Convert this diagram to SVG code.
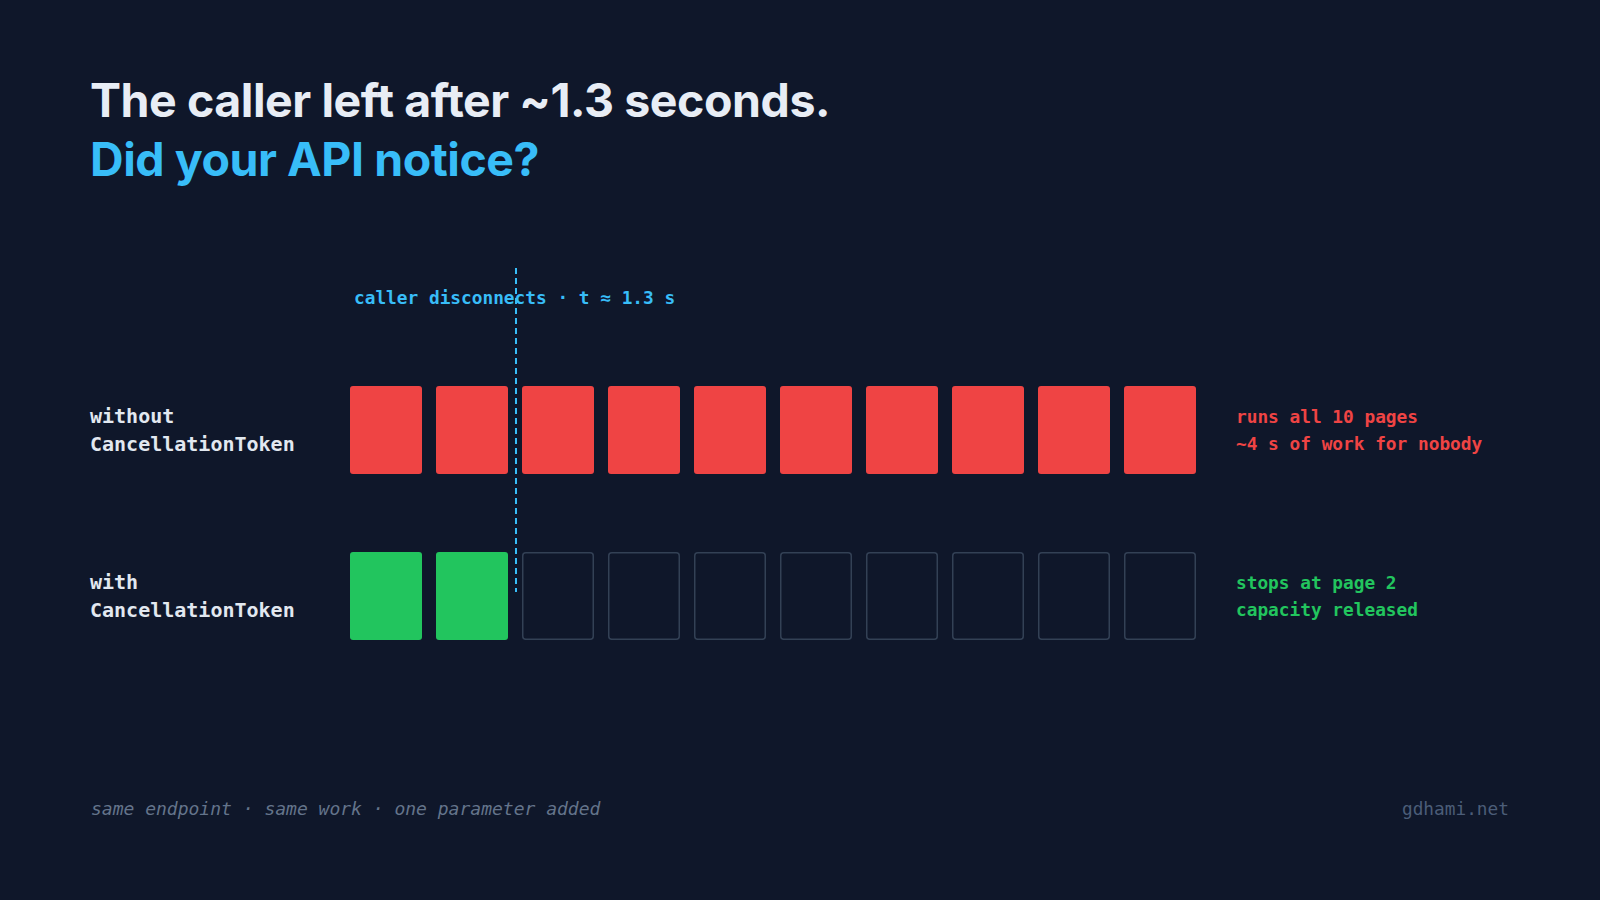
<svg xmlns="http://www.w3.org/2000/svg" width="1600" height="900" viewBox="0 0 1600 900">
  <style>
    .title { font-family: Inter, "Noto Sans", "Liberation Sans", sans-serif; font-weight: 700; font-size: 46.5px; letter-spacing: -0.45px; }
    .mono { font-family: "DejaVu Sans Mono", "Liberation Mono", monospace; }
    .rowlabel { font-size: 20px; font-weight: 700; fill: #e2e8f0; }
    .note { font-size: 17.8px; font-weight: 700; }
    .red { fill: #ef4444; }
    .green { fill: #22c55e; }
    .empty { fill: #0f172a; stroke: #334155; stroke-width: 1.5; }
    .footer { font-size: 18px; font-style: italic; fill: #64748b; }
  </style>
  <rect x="0" y="0" width="1600" height="900" fill="#0f172a"/>

  <g id="title">
    <text class="title" x="90" y="117" fill="#e8edf5">The caller left after ~1.3 seconds.</text>
    <text class="title" x="90" y="176" fill="#38bdf8">Did your API notice?</text>
  </g>

  <g id="row-without">
    <text class="mono rowlabel" x="90" y="423">without</text>
    <text class="mono rowlabel" x="90" y="451">CancellationToken</text>
    <rect class="red" x="350" y="386" width="72" height="88" rx="3"/>
    <rect class="red" x="436" y="386" width="72" height="88" rx="3"/>
    <rect class="red" x="522" y="386" width="72" height="88" rx="3"/>
    <rect class="red" x="608" y="386" width="72" height="88" rx="3"/>
    <rect class="red" x="694" y="386" width="72" height="88" rx="3"/>
    <rect class="red" x="780" y="386" width="72" height="88" rx="3"/>
    <rect class="red" x="866" y="386" width="72" height="88" rx="3"/>
    <rect class="red" x="952" y="386" width="72" height="88" rx="3"/>
    <rect class="red" x="1038" y="386" width="72" height="88" rx="3"/>
    <rect class="red" x="1124" y="386" width="72" height="88" rx="3"/>
    <text class="mono note red" x="1236" y="423">runs all 10 pages</text>
    <text class="mono note red" x="1236" y="450">~4 s of work for nobody</text>
  </g>

  <g id="row-with">
    <text class="mono rowlabel" x="90" y="589">with</text>
    <text class="mono rowlabel" x="90" y="617">CancellationToken</text>
    <rect class="green" x="350" y="552" width="72" height="88" rx="3"/>
    <rect class="green" x="436" y="552" width="72" height="88" rx="3"/>
    <rect class="empty" x="522.75" y="552.75" width="70.5" height="86.5" rx="3"/>
    <rect class="empty" x="608.75" y="552.75" width="70.5" height="86.5" rx="3"/>
    <rect class="empty" x="694.75" y="552.75" width="70.5" height="86.5" rx="3"/>
    <rect class="empty" x="780.75" y="552.75" width="70.5" height="86.5" rx="3"/>
    <rect class="empty" x="866.75" y="552.75" width="70.5" height="86.5" rx="3"/>
    <rect class="empty" x="952.75" y="552.75" width="70.5" height="86.5" rx="3"/>
    <rect class="empty" x="1038.75" y="552.75" width="70.5" height="86.5" rx="3"/>
    <rect class="empty" x="1124.75" y="552.75" width="70.5" height="86.5" rx="3"/>
    <text class="mono note green" x="1236" y="589">stops at page 2</text>
    <text class="mono note green" x="1236" y="616">capacity released</text>
  </g>

  <g id="connectors">
    <line x1="516" y1="268" x2="516" y2="592" stroke="#38bdf8" stroke-width="2" stroke-dasharray="6 4"/>
  </g>

  <g id="disconnect-label">
    <text class="mono note" x="354" y="304" fill="#38bdf8">caller disconnects · t ≈ 1.3 s</text>
  </g>

  <g id="footer">
    <text class="mono footer" x="91" y="815">same endpoint · same work · one parameter added</text>
    <text class="mono" x="1509" y="815" font-size="17.8" fill="#4b5d78" text-anchor="end">gdhami.net</text>
  </g>
</svg>
